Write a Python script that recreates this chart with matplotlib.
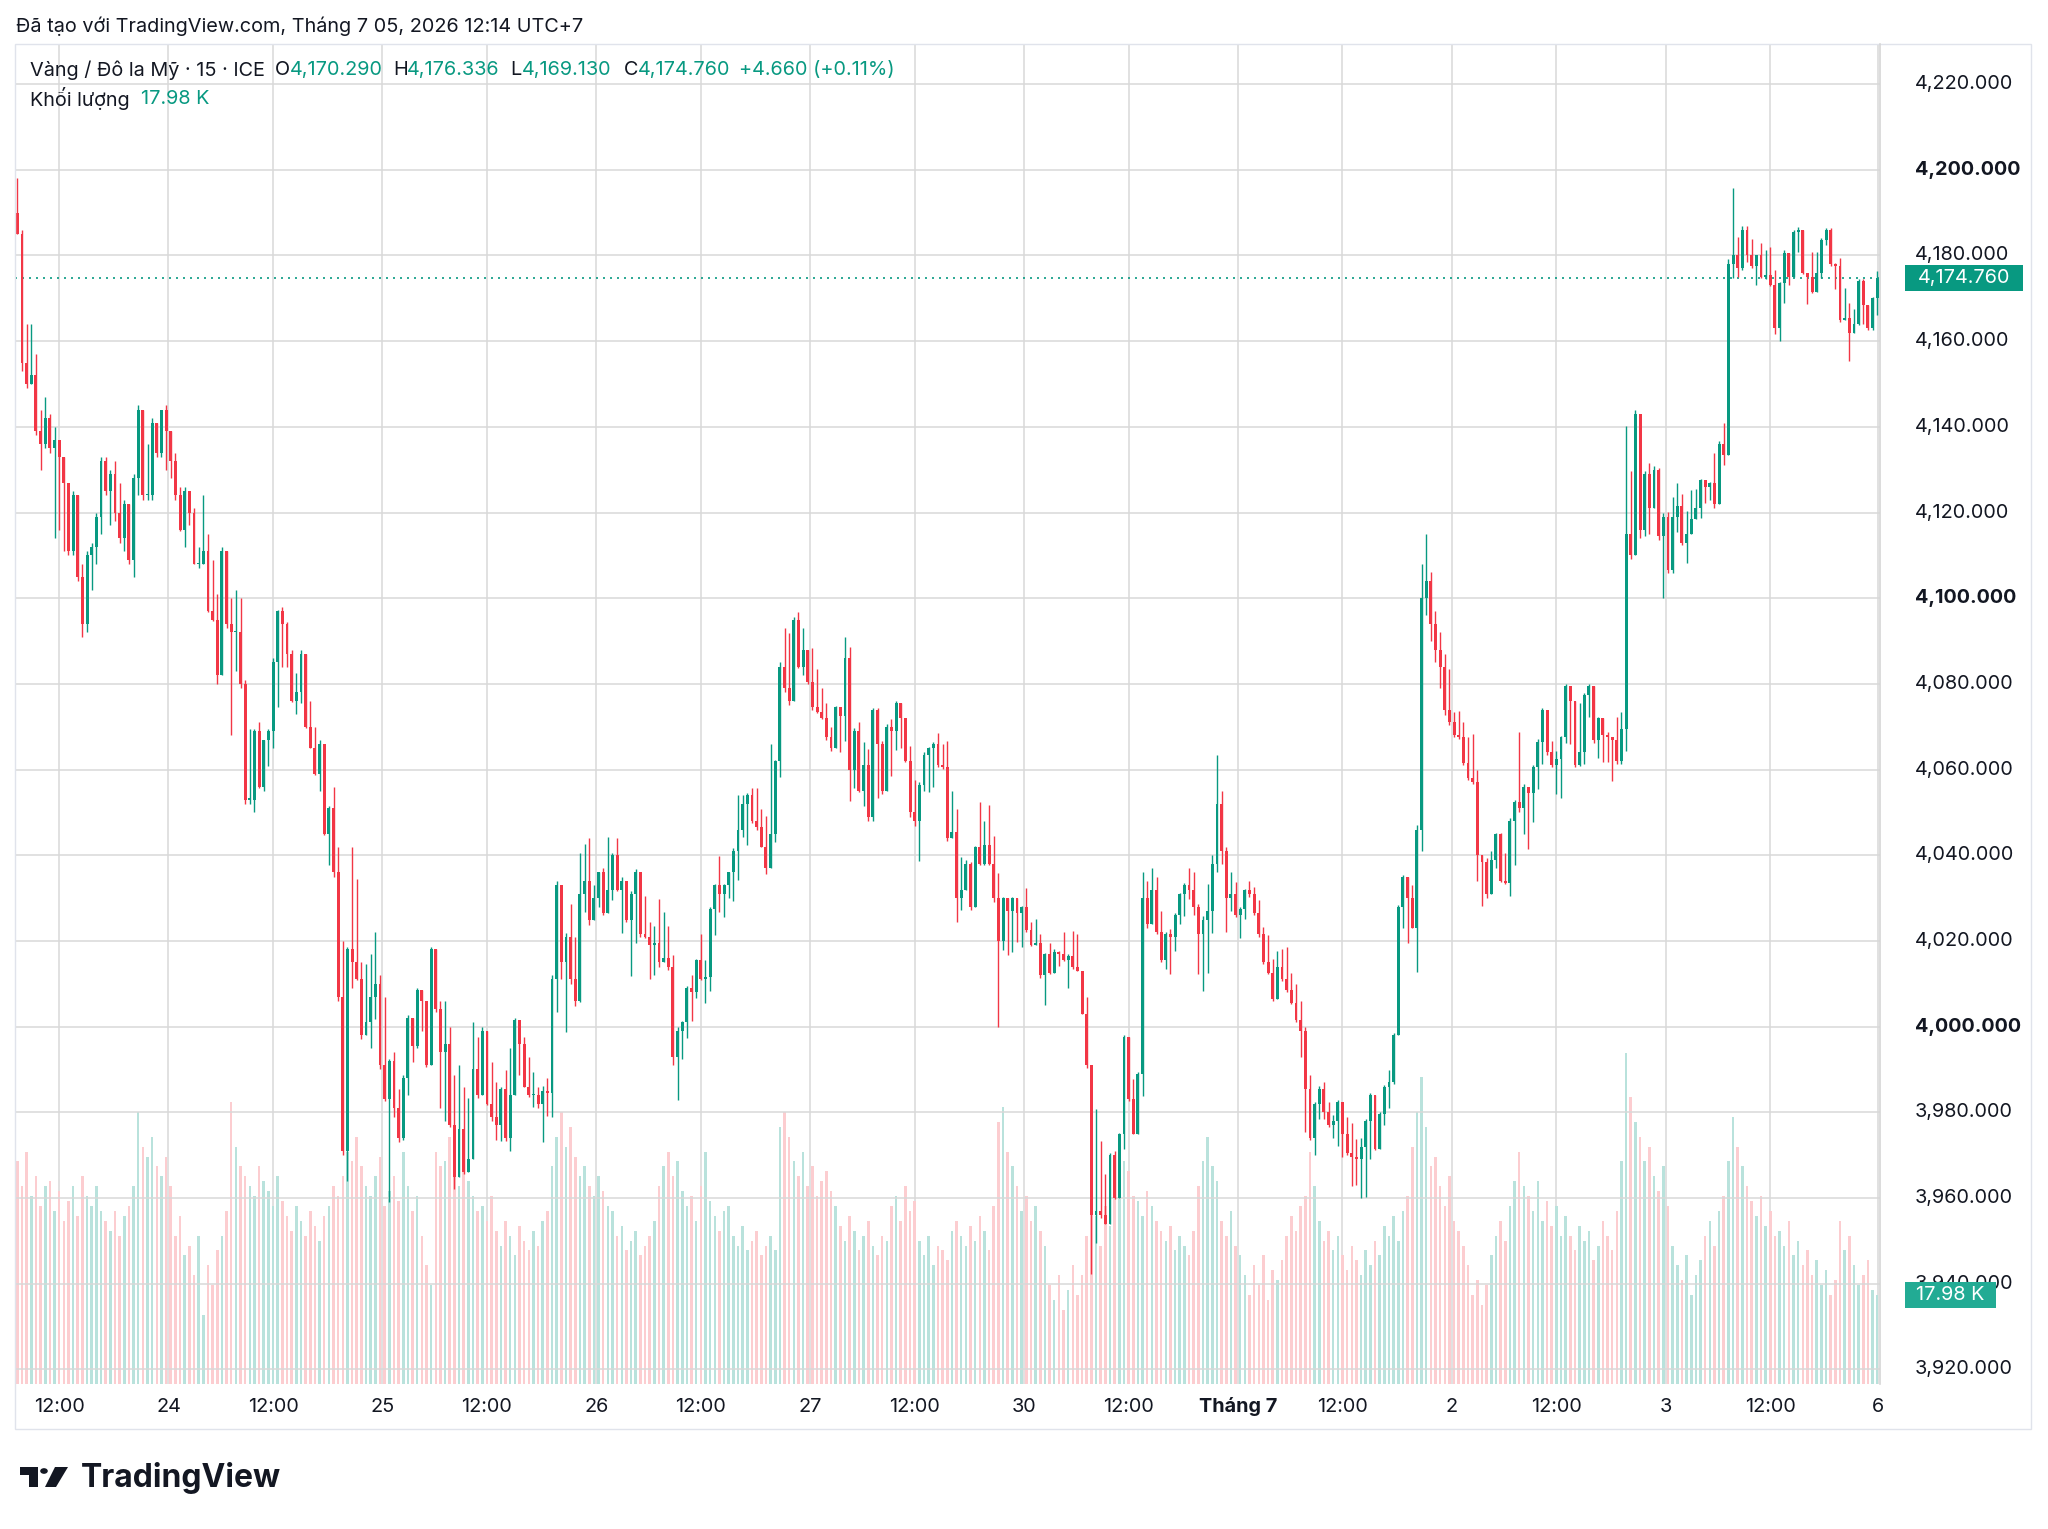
import numpy as np
import matplotlib.pyplot as plt
from matplotlib.patches import Rectangle, Polygon, Circle
from matplotlib.lines import Line2D
import matplotlib.transforms as mtransforms

plt.rcParams['font.family'] = ['Inter', 'DejaVu Sans']

# %% Data: gold vs USD, read off the screenshot as 30-minute bars

first_open = 4190.0

highs = [
    4198, 4186, 4164, 4164, 4157, 4144, 4147, 4143, 4140, 4134,
    4128, 4127, 4125, 4123, 4108, 4111, 4113, 4120, 4133, 4133,
    4130, 4132, 4127, 4123, 4122, 4129, 4145, 4143, 4136, 4142,
    4141, 4144, 4145, 4139, 4134, 4126, 4126, 4124.5, 4121, 4112,
    4124, 4115, 4109, 4101, 4112, 4110, 4100, 4102, 4100, 4081,
    4069.5, 4069.5, 4071, 4067, 4069.5, 4086, 4097.3, 4098, 4094.5, 4088,
    4082.6, 4088, 4080, 4076, 4070, 4067, 4066, 4051.5, 4056, 4042,
    4020, 4018.5, 4042, 4034.5, 4015, 4014.6, 4017, 4022, 4012, 4007,
    3992.5, 3994, 3985.5, 3988.6, 4002.6, 4001, 4009, 4006.6, 4003, 4018.6,
    4018, 4006, 4006, 4000, 3988.6, 3991, 3986, 3983.3, 4001, 3997.6,
    4000, 3999, 3991.7, 3987, 3986, 3989.8, 3995, 4002, 4000, 3997.5,
    3993, 3989.4, 3986, 3986.2, 3988, 4012, 4034, 4032, 4021.9, 4028.7,
    4021, 4040.6, 4042.7, 4044, 4033, 4036, 4037, 4044.3, 4040.6, 4044,
    4035, 4031, 4031.6, 4036.7, 4030.4, 4030.6, 4024.3, 4023.5, 4029.8, 4026.7,
    4023.4, 4016.7, 4000, 4001.4, 4009.5, 4012, 4015.7, 4021.6, 4015.5, 4028,
    4033.3, 4039.8, 4033.3, 4036, 4041.7, 4054, 4054, 4054.6, 4055.6, 4055.6,
    4050.9, 4049.2, 4066, 4062.3, 4085, 4093, 4091.8, 4095.5, 4096.7, 4093,
    4086.9, 4088.4, 4083.5, 4079, 4075.6, 4070, 4074.8, 4073, 4091, 4088.6,
    4069.7, 4071, 4066.4, 4064.9, 4074.4, 4074.4, 4066.7, 4070.6, 4071.9, 4076,
    4073.2, 4069.5, 4065.4, 4057.6, 4057, 4064.2, 4065.2, 4066.4, 4068.5, 4066,
    4066.6, 4055, 4050.8, 4039.7, 4039, 4038.5, 4042.2, 4052.5, 4048, 4051.8,
    4044.6, 4035.8, 4030.3, 4027.8, 4030.3, 4026.8, 4028.2, 4032.3, 4024.3, 4025.2,
    4021.6, 4017.1, 4019.5, 4018, 4017.7, 4022.1, 4016.9, 4022.3, 4021.6, 4012.2,
    4006.8, 3987.3, 3980.7, 3973.3, 3965.5, 3970.4, 3971, 3975.1, 3998, 3996,
    3987.7, 3989.4, 4036, 4034, 4037, 4035, 4027, 4022, 4022.7, 4026.6,
    4031.3, 4033.6, 4037, 4036, 4028.6, 4025.8, 4033.2, 4040, 4063.5, 4055,
    4042, 4036, 4033.8, 4028, 4032.2, 4034, 4032.6, 4029.5, 4023.3, 4021.3,
    4015.7, 4017.6, 4018, 4018.5, 4012.6, 4010, 4005.9, 4000, 3988.7, 3982.4,
    3986.2, 3987, 3982.3, 3979.3, 3982.8, 3977.1, 3979, 3977.4, 3973.7, 3974,
    3978.5, 3984.4, 3979.7, 3980, 3986.3, 3989.8, 3998.6, 4028.3, 4035.3, 4033.8,
    4033, 4047, 4108, 4115, 4106, 4097, 4092, 4087, 4083.5, 4073.5,
    4073.7, 4071, 4067.5, 4068.4, 4059.8, 4039.8, 4039.4, 4041, 4045.2, 4045.2,
    4040.6, 4048.6, 4053, 4068.7, 4056.6, 4055, 4061, 4067.1, 4074.3, 4073.1,
    4066.7, 4064.3, 4067.9, 4079.9, 4076.9, 4074.3, 4075.5, 4077.9, 4079.9, 4077.1,
    4072.3, 4068.3, 4068.7, 4067.5, 4072.3, 4073.5, 4140.3, 4129.7, 4144, 4138.2,
    4129.7, 4131.5, 4130.9, 4130.5, 4120, 4120.2, 4123.7, 4127, 4124.3, 4120.4,
    4125.3, 4125.5, 4127.9, 4126.5, 4127.2, 4133.9, 4136.7, 4140.9, 4179.1, 4195.7,
    4184.3, 4186.9, 4186.9, 4183.8, 4180.1, 4183, 4181.2, 4182, 4176.5, 4173.9,
    4181.2, 4179.6, 4185.9, 4186.7, 4185.6, 4175.2, 4180.7, 4180.7, 4184, 4186.4,
    4186.5, 4178.3, 4179.3, 4172.3, 4169, 4167.4, 4174.4, 4174.4, 4166, 4170.3,
    4176.34,
]

lows = [
    4185, 4153, 4149, 4151, 4138, 4130, 4135, 4134, 4114, 4116,
    4111, 4110, 4110, 4104, 4091, 4092, 4102, 4108, 4115, 4124,
    4117, 4118, 4113, 4111, 4108, 4105, 4124, 4123, 4123, 4123,
    4133, 4133, 4130, 4128, 4123, 4115.6, 4112, 4117, 4108, 4107,
    4108, 4096.7, 4094.7, 4080, 4085, 4093, 4068, 4083, 4079, 4052,
    4052, 4050, 4055.6, 4055, 4060.8, 4065, 4074.5, 4084, 4084, 4075.8,
    4073, 4075.5, 4069.7, 4065, 4058.8, 4055, 4044.7, 4037.7, 4035, 4006,
    3970, 3964, 4009, 4010.8, 3997, 4000, 3995, 4001.8, 3990, 3982.7,
    3959, 3979, 3973, 3973.6, 3984, 3991.7, 3995, 3999, 3990.5, 3994.8,
    4003.4, 3981, 3978, 3976.5, 3962, 3967, 3965.7, 3967.3, 3974, 3983.3,
    3991, 3981.7, 3978, 3973.6, 3973.4, 3973.2, 3971, 3986, 3988.6, 3986,
    3983.5, 3981.2, 3981, 3973, 3979.2, 3978.8, 4003.4, 4011, 3998.8, 4010,
    4004.8, 4005.7, 4026.8, 4023.6, 4026.4, 4028, 4026, 4031.6, 4029.6, 4031.6,
    4021.8, 4024.3, 4011.8, 4019.4, 4021, 4020.6, 4011.2, 4012, 4014, 4015.7,
    4013.2, 3991, 3982.8, 3992.4, 3997.3, 4001.4, 4006.7, 4010.8, 4005.5, 4008.3,
    4021.4, 4026.7, 4025.7, 4030, 4029.4, 4034.3, 4044.3, 4042.3, 4047.6, 4046,
    4041.9, 4035.7, 4039.2, 4043.1, 4058.2, 4078, 4075, 4077.9, 4083.6, 4082,
    4080, 4074, 4073.2, 4071.7, 4067, 4064.4, 4065.4, 4064.2, 4066.6, 4052.7,
    4055.7, 4054.7, 4051.4, 4047.9, 4047.9, 4053.3, 4054.3, 4059.2, 4058.4, 4064.6,
    4065, 4061.7, 4049, 4046.8, 4038.7, 4054.9, 4054.7, 4056, 4060.5, 4060.2,
    4043.3, 4045.1, 4024.3, 4027.2, 4032.3, 4027.2, 4029.8, 4037.7, 4037.7, 4037.7,
    4029.1, 4000, 4017.8, 4016.7, 4017.4, 4019.8, 4018.6, 4022.1, 4018.8, 4019.2,
    4011.4, 4005, 4012.2, 4012.6, 4014.2, 4015.3, 4009.1, 4013.4, 4013, 4002.9,
    3990.4, 3942.2, 3949.6, 3955.4, 3953.9, 3958.5, 3959.7, 3962.4, 3971.4, 3982.7,
    3974.9, 3976, 3983.8, 4023, 4025, 4021.6, 4015, 4013.4, 4012.2, 4017.7,
    4023.9, 4025.9, 4029.7, 4026, 4012.2, 4008.3, 4012.6, 4021.9, 4036, 4038,
    4022, 4027, 4025.6, 4020.7, 4025.2, 4030.3, 4026, 4021, 4014.5, 4012.2,
    4005.9, 4010.4, 4010.6, 4008, 4005.2, 4001.1, 3992.9, 3975.4, 3973.5, 3970,
    3978.4, 3978.5, 3976.6, 3973.9, 3972.2, 3969.6, 3970.1, 3962.8, 3963.1, 3960,
    3960.3, 3969.2, 3971.2, 3972.7, 3977, 3981, 3986.7, 3998.4, 4022.9, 4019.4,
    4022.9, 4012.8, 4041, 4096, 4090, 4085, 4079, 4072.7, 4070.3, 4067.5,
    4067.1, 4061, 4057.6, 4056.6, 4034.1, 4028.1, 4030.1, 4033, 4037, 4033.7,
    4033.3, 4030.5, 4037.8, 4050.2, 4045, 4041.4, 4047.8, 4055.4, 4061.4, 4063.5,
    4060.6, 4054.2, 4053.4, 4066.3, 4065.9, 4060.6, 4060.8, 4061.3, 4072.3, 4066.3,
    4062.7, 4061.8, 4061.8, 4057.4, 4061.4, 4061.4, 4064.3, 4109.2, 4110, 4114.1,
    4114.5, 4114.9, 4122.5, 4113.7, 4100, 4105.8, 4105.8, 4115.5, 4112.5, 4108.1,
    4115.9, 4120.4, 4118.7, 4122.2, 4123, 4121, 4122.4, 4131.1, 4135.4, 4174.8,
    4175, 4176.5, 4178.5, 4177.1, 4173.1, 4174.8, 4174.4, 4172.9, 4161.7, 4160.1,
    4169, 4173.2, 4175.6, 4180.7, 4175.7, 4168.6, 4171.3, 4175.4, 4174.8, 4182.5,
    4177.5, 4172.1, 4164.5, 4165, 4155.3, 4161.9, 4163.7, 4163.9, 4162.7, 4162.5,
    4166,
]

closes = [
    4185, 4155, 4150, 4152, 4139, 4136, 4142, 4135, 4137, 4133,
    4127, 4111, 4124, 4105, 4094, 4110, 4112, 4119, 4132, 4125,
    4129, 4120, 4114, 4122, 4109, 4128, 4144, 4124, 4124, 4141,
    4134, 4144, 4139, 4132, 4124, 4116, 4125, 4120, 4108, 4108,
    4111, 4097, 4095, 4082, 4111, 4094, 4092, 4092, 4080, 4053,
    4053, 4069, 4056, 4067, 4069, 4085, 4097, 4094, 4087, 4076,
    4078, 4087, 4070, 4065, 4059, 4066, 4045, 4051, 4036, 4007,
    3971, 4018, 4015, 4011, 3998, 4001, 4007, 4010, 3991, 3983,
    3992, 3981, 3974, 3988, 4002, 3995.5, 4008.5, 4006, 3991, 4018,
    4004, 3994, 3996, 3977, 3965, 3976, 3966, 3969, 3990, 3984,
    3999, 3982, 3979, 3977, 3985.5, 3974, 3984, 4001.5, 3996, 3986,
    3984, 3984, 3982, 3985, 3984.5, 4011, 4033, 4015, 4021, 4011,
    4006, 4031, 4034, 4025, 4030, 4036, 4026.5, 4032, 4040, 4032,
    4034, 4025, 4031, 4036, 4021.5, 4021, 4019, 4019.5, 4015, 4016,
    4014, 3993, 3999, 4001, 4009, 4008, 4015.5, 4011, 4011.5, 4027.5,
    4033, 4031, 4033, 4036, 4041, 4046, 4052, 4054, 4048, 4046.5,
    4042, 4037, 4045, 4062, 4084, 4079, 4076, 4095, 4084, 4088,
    4080.5, 4074.5, 4073.5, 4072, 4067.5, 4065, 4074.5, 4072.5, 4086, 4060,
    4069, 4055, 4061, 4049, 4074, 4066, 4055, 4070, 4069, 4075.5,
    4072, 4062, 4050, 4048, 4056.5, 4063.5, 4065, 4066, 4061, 4060.5,
    4044, 4045.5, 4030, 4032, 4038, 4028, 4042, 4038, 4042.5, 4038,
    4030, 4020, 4030, 4027, 4030, 4026.5, 4028, 4022.5, 4019, 4019.5,
    4012, 4017, 4012.5, 4017.5, 4017, 4015.5, 4016.5, 4014, 4013, 4003,
    3991, 3956, 3957, 3956, 3954, 3970, 3960, 3975, 3997.5, 3983,
    3975, 3989, 4030, 4024, 4032, 4022, 4015.5, 4021.5, 4021, 4026,
    4031, 4033, 4032, 4028, 4021.5, 4025, 4027, 4038, 4052, 4041,
    4030, 4031, 4026, 4027.5, 4032, 4031, 4026.5, 4021.5, 4015, 4012.5,
    4006.5, 4014, 4011, 4008.5, 4005.5, 4001.5, 3999, 3985.5, 3974, 3982,
    3985.5, 3980, 3977, 3978, 3982.5, 3975, 3970.5, 3969.5, 3969, 3972,
    3978, 3984, 3971.5, 3979.5, 3986, 3987, 3998, 4028, 4035, 4030,
    4023, 4046, 4100, 4104, 4094, 4088, 4084, 4074, 4071, 4068,
    4067.5, 4061.5, 4058, 4057, 4040, 4038.5, 4031, 4039, 4045, 4034,
    4033.5, 4048, 4052.5, 4051, 4056, 4054.5, 4060.5, 4066.5, 4074, 4064,
    4061, 4062.5, 4067.5, 4079.5, 4076, 4061, 4064, 4077.5, 4079.5, 4067,
    4072, 4068, 4067.5, 4067, 4062, 4069.5, 4115, 4110, 4143, 4116,
    4129, 4121, 4130, 4114.5, 4119, 4106.5, 4119, 4121.5, 4113, 4115,
    4118.5, 4121, 4127.5, 4126, 4127, 4122, 4136, 4133.5, 4178, 4180,
    4177, 4186, 4180, 4177.5, 4180, 4175, 4175.5, 4173, 4163, 4173.5,
    4180.5, 4175, 4185.5, 4186, 4176, 4175, 4171.5, 4176, 4183.5, 4186,
    4178, 4177.5, 4165, 4165.5, 4162, 4164, 4174, 4168.5, 4163, 4170,
    4174.76,
]

# volume, thousands
volumes_k = [
    45, 40, 47, 38, 42, 36, 40, 41, 35, 39,
    33, 37, 40, 34, 42, 38, 36, 40, 35, 33,
    31, 35, 30, 34, 36, 40, 55, 48, 46, 50,
    44, 42, 46, 40, 30, 34, 26, 28, 22, 30,
    14, 24, 20, 27, 30, 35, 57, 48, 44, 42,
    40, 38, 44, 41, 39, 36, 42, 37, 34, 31,
    36, 33, 30, 35, 32, 29, 34, 36, 40, 38,
    42, 47, 45, 50, 44, 40, 38, 42, 46, 36,
    39, 42, 37, 47, 40, 35, 38, 30, 24, 20,
    47, 44, 45, 50, 42, 40, 44, 41, 38, 35,
    36, 33, 38, 31, 28, 33, 30, 26, 32, 29,
    27, 31, 28, 33, 35, 44, 50, 55, 48, 52,
    46, 42, 44, 40, 38, 42, 39, 36, 35, 30,
    32, 27, 29, 31, 26, 28, 30, 33, 40, 44,
    47, 42, 45, 39, 36, 38, 33, 40, 47, 37,
    34, 31, 35, 36, 30, 28, 32, 27, 29, 31,
    26, 28, 30, 27, 52, 55, 50, 45, 42, 47,
    40, 44, 38, 41, 43, 39, 36, 32, 29, 34,
    31, 27, 30, 33, 28, 26, 30, 29, 36, 38,
    33, 40, 35, 37, 29, 26, 30, 24, 28, 27,
    25, 31, 33, 30, 28, 32, 29, 34, 31, 27,
    36, 53, 56, 47, 44, 40, 35, 38, 33, 36,
    31, 28, 20, 17, 22, 15, 19, 24, 18, 22,
    30, 38, 34, 28, 36, 32, 42, 40, 45, 43,
    38, 37, 34, 39, 36, 33, 31, 29, 32, 27,
    30, 28, 26, 31, 40, 45, 50, 44, 41, 33,
    30, 35, 28, 26, 22, 18, 24, 20, 26, 17,
    23, 21, 25, 30, 34, 31, 36, 38, 47, 40,
    33, 29, 31, 27, 30, 26, 23, 28, 25, 22,
    27, 24, 29, 26, 32, 30, 34, 29, 35, 38,
    48, 55, 62, 52, 44, 46, 40, 36, 42, 33,
    31, 28, 24, 18, 21, 16, 20, 26, 30, 33,
    29, 36, 41, 47, 40, 38, 35, 41, 33, 37,
    32, 36, 30, 34, 30, 27, 32, 29, 31, 25,
    28, 33, 30, 27, 35, 45, 67, 58, 53, 50,
    45, 48, 42, 39, 44, 36, 28, 24, 21, 26,
    18, 22, 25, 30, 33, 28, 35, 38, 45, 54,
    48, 44, 40, 37, 34, 38, 32, 35, 30, 31,
    28, 33, 26, 29, 24, 27, 22, 25, 20, 23,
    18, 21, 33, 27, 30, 24, 20, 22, 25, 19,
    17.98,
]

price_levels = [4220, 4200, 4180, 4160, 4140, 4120, 4100, 4080, 4060, 4040,
                4020, 4000, 3980, 3960, 3940, 3920]
bold_levels = [4200, 4100, 4000]

time_ticks = [9, 32.5, 55, 78.5, 101, 124.5, 147, 170.5, 193, 216.5,
              239, 262.5, 285, 308.5, 331, 354.5, 377, 400.2]
time_labels = ["12:00", "24", "12:00", "25", "12:00", "26", "12:00", "27", "12:00", "30",
               "12:00", "Tháng 7", "12:00", "2", "12:00", "3", "12:00", "6"]

# legend of the last 15 min candle
last_ohlc = [4170.290, 4176.336, 4169.130, 4174.760]
last_change = 4.660
last_change_pct = 0.11
last_volume_k = 17.98

# %% Style

UP = "#089981"
DOWN = "#f23645"
UP_VOL = "#b9e2dc"
DOWN_VOL = "#fccdd0"
GRID = "#d8d8d8"
FRAME = "#e0e3eb"
TEXT = "#131722"
FS = 14.3

W, H = 2048, 1529
L_PX, R_PX, T_PX, B_PX = 15, 1880, 44, 1384
PX_PER_USD = 4.284
VOL_TOP = 271.0

n = len(closes)
assert len(highs) == n and len(lows) == n and len(volumes_k) == n

closes = np.array(closes, dtype=float)
opens = np.r_[first_open, closes[:-1]]
hi = np.maximum(np.array(highs, dtype=float), np.maximum(opens, closes))
lo = np.minimum(np.array(lows, dtype=float), np.minimum(opens, closes))
up = closes >= opens
x = np.arange(n)

fig = plt.figure(figsize=(W / 100, H / 100), dpi=100)
fig.patch.set_facecolor("white")

rect = [L_PX / W, 1 - B_PX / H, (R_PX - L_PX) / W, (B_PX - T_PX) / H]
axv = fig.add_axes(rect)
axp = fig.add_axes(rect, facecolor="none")

y_top = 4200 + (169.8 - T_PX) / PX_PER_USD
y_bot = 4200 - (B_PX - 169.8) / PX_PER_USD
for a in (axv, axp):
    a.set_xlim(-0.5, 400.6)
    a.set_axis_off()
axv.set_ylim(0, VOL_TOP)
axp.set_ylim(y_bot, y_top)

# grid
for t in time_ticks:
    axv.axvline(t, color=GRID, lw=1.1, zorder=0)
for p in price_levels:
    axp.axhline(p, color=GRID, lw=1.1, zorder=0)

# volume
axv.bar(x, volumes_k, width=0.55, color=np.where(up, UP_VOL, DOWN_VOL), linewidth=0, zorder=1)

# candles
col = np.where(up, UP, DOWN)
axp.vlines(x, lo, hi, colors=col, lw=1.0, zorder=3)
axp.bar(x, np.maximum(np.abs(closes - opens), 0.3), bottom=np.minimum(opens, closes),
        width=0.62, color=col, linewidth=0, zorder=4)

# last price line
axp.axhline(closes[-1], color=UP, lw=1.2, ls=(0, (1.2, 3.0)), zorder=2)

# right price scale
tr = mtransforms.blended_transform_factory(axp.transAxes, axp.transData)
trv = mtransforms.blended_transform_factory(axv.transAxes, axv.transData)
span = R_PX - L_PX
xl = (1915 - L_PX) / span
for p in price_levels:
    axp.text(xl, p, f"{p:,.3f}", transform=tr, ha="left", va="center", fontsize=FS,
             fontweight="bold" if p in bold_levels else "normal", color=TEXT, clip_on=False, zorder=5)

tag_x = (1905 - L_PX) / span
tag_h = 26 / PX_PER_USD
axp.add_patch(Rectangle((tag_x, closes[-1] - tag_h / 2), (2023 - 1905) / span, tag_h, transform=tr,
                        facecolor=UP, edgecolor="none", clip_on=False, zorder=6))
axp.text(tag_x + (2023 - 1905) / span / 2, closes[-1], f"{closes[-1]:,.3f}", transform=tr,
         ha="center", va="center", fontsize=FS, color="white", clip_on=False, zorder=7)

vtag_h = 26 * VOL_TOP / (B_PX - T_PX)
axp.add_patch(Rectangle((tag_x, last_volume_k - vtag_h / 2), (1996 - 1905) / span, vtag_h, transform=trv,
                        facecolor="#22ab94", edgecolor="none", clip_on=False, zorder=6))
axp.text(tag_x + (1996 - 1905) / span / 2, last_volume_k, f"{last_volume_k:.2f} K", transform=trv,
         ha="center", va="center", fontsize=FS, color="white", clip_on=False, zorder=7)

# time scale
trx = mtransforms.blended_transform_factory(axp.transData, axp.transAxes)
yl = -(1407 - B_PX) / (B_PX - T_PX)
for t, lab in zip(time_ticks, time_labels):
    axp.text(t, yl, lab, transform=trx, ha="center", va="center", fontsize=FS, color=TEXT,
             fontweight="bold" if lab == "Tháng 7" else "normal", clip_on=False)

# frame
fig.add_artist(Rectangle((15 / W, 1 - 1429 / H), (2031 - 15) / W, (1429 - T_PX) / H,
                         transform=fig.transFigure, fill=False, edgecolor=FRAME, lw=1.0))
fig.add_artist(Line2D([R_PX / W, R_PX / W], [1 - T_PX / H, 1 - B_PX / H],
                      transform=fig.transFigure, color="#d6d6d6", lw=1.2))

# header and legend
def put(px, py, s, color=TEXT, size=FS, va="center", **kw):
    fig.text(px / W, 1 - py / H, s, color=color, ha="left", va=va, fontsize=size, **kw)

put(16, 26, "Đã tạo với TradingView.com, Tháng 7 05, 2026 12:14 UTC+7")
put(30, 70, "Vàng / Đô la Mỹ · 15 · ICE")
o, h, l, c = last_ohlc
put(275, 70, "O")
put(290, 70, f"{o:,.3f}", UP)
put(393, 70, "H")
put(407, 70, f"{h:,.3f}", UP)
put(510, 70, "L")
put(522, 70, f"{l:,.3f}", UP)
put(624, 70, "C")
put(638, 70, f"{c:,.3f}", UP)
put(739, 70, f"+{last_change:.3f} (+{last_change_pct:.2f}%)", UP)
put(30, 99, "Khối lượng")
put(141, 99, f"{last_volume_k:.2f} K", UP)

# TradingView logo
def P(px, py):
    return (px / W, 1 - py / H)

fig.add_artist(Polygon([P(20, 1467), P(38, 1467), P(38, 1487), P(29, 1487), P(29, 1475), P(20, 1475)],
                       closed=True, transform=fig.transFigure, facecolor=TEXT, edgecolor="none"))
fig.add_artist(Circle(P(44, 1471), 3.8 / W, transform=fig.transFigure, facecolor=TEXT, edgecolor="none"))
fig.add_artist(Polygon([P(45, 1487), P(55, 1467), P(68, 1467), P(56, 1487)],
                       closed=True, transform=fig.transFigure, facecolor=TEXT, edgecolor="none"))
put(81, 1487, "TradingView", size=23, va="baseline", fontweight="bold")

fig.savefig("out.png", dpi=100, facecolor="white")
